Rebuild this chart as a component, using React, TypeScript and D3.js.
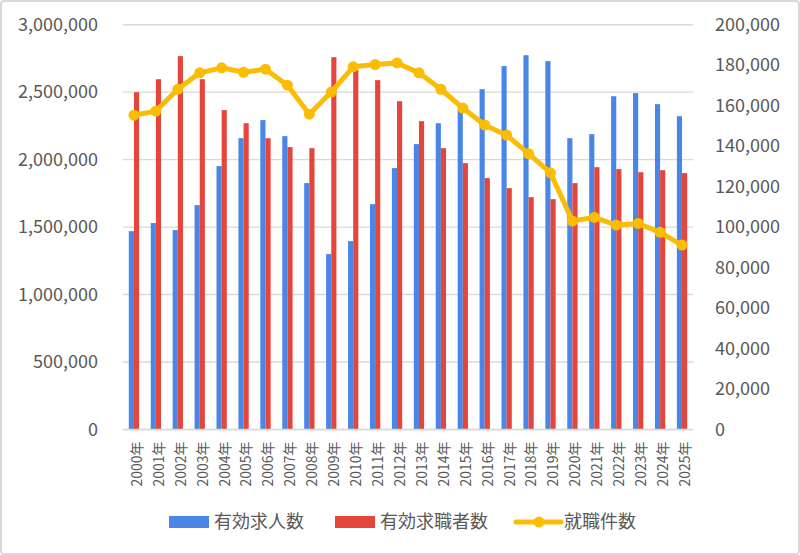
import React, { useEffect, useRef } from 'react'
import * as d3 from 'd3'

// 年度
const years = ['2000年', '2001年', '2002年', '2003年', '2004年', '2005年', '2006年', '2007年', '2008年', '2009年',
    '2010年', '2011年', '2012年', '2013年', '2014年', '2015年', '2016年', '2017年', '2018年', '2019年',
    '2020年', '2021年', '2022年', '2023年', '2024年', '2025年']

// 有効求人数 (left axis)
const openings = [1470000, 1530000, 1478000, 1663000, 1952000, 2159000, 2293000, 2174000, 1826000, 1300000,
    1396000, 1670000, 1937000, 2115000, 2270000, 2367000, 2522000, 2693000, 2774000, 2730000,
    2159000, 2189000, 2470000, 2493000, 2411000, 2322000]

// 有効求職者数 (left axis)
const seekers = [2500000, 2596000, 2767000, 2596000, 2367000, 2270000, 2159000, 2093000, 2085000, 2759000,
    2665000, 2589000, 2433000, 2285000, 2085000, 1974000, 1863000, 1789000, 1722000, 1707000,
    1826000, 1944000, 1930000, 1907000, 1922000, 1900000]

// 就職件数 (right axis)
const placements = [155300, 157300, 168100, 176200, 178700, 176500, 178000, 170100, 155800, 166700,
    179200, 180300, 181100, 176200, 168100, 158800, 150400, 145400, 136300, 126800,
    103000, 104800, 101000, 101800, 97400, 91100]

const leftTicks = [0, 500000, 1000000, 1500000, 2000000, 2500000, 3000000]
const rightTicks = [0, 20000, 40000, 60000, 80000, 100000, 120000, 140000, 160000, 180000, 200000]

const legendItems = ['有効求人数', '有効求職者数', '就職件数']

const W = 800, H = 555
const BLUE = '#4a86e8', RED = '#e5463b', YELLOW = '#fbbc04'
const TEXT = '#595959', GRID = '#d9d9d9'
const FONT = '"Noto Sans CJK JP", "Noto Sans", sans-serif'

const App = () => {
    const ref = useRef<SVGSVGElement>(null)

    useEffect(() => {
        const svg = d3.select(ref.current)
        svg.selectAll('*').remove()

        const left = 123, right = 693, top = 24.7, bottom = 429.5

        const x = d3.scaleBand().domain(years).range([left, right])
        const yL = d3.scaleLinear().domain([0, 3000000]).range([bottom, top])
        const yR = d3.scaleLinear().domain([0, 200000]).range([bottom, top])
        const fmt = d3.format(',')

        // chart border
        svg.append('rect')
            .attr('x', 1).attr('y', 1).attr('width', W - 2).attr('height', H - 2)
            .attr('rx', 3)
            .attr('fill', '#fff').attr('stroke', GRID).attr('stroke-width', 2)

        // gridlines
        svg.append('g')
            .selectAll('line')
            .data(leftTicks)
            .join('line')
            .attr('x1', left).attr('x2', right)
            .attr('y1', d => yL(d)).attr('y2', d => yL(d))
            .attr('stroke', GRID).attr('stroke-width', 1.4)

        // left tick labels
        svg.append('g')
            .selectAll('text')
            .data(leftTicks)
            .join('text')
            .attr('x', 98).attr('y', d => yL(d))
            .attr('dy', '0.35em')
            .attr('text-anchor', 'end')
            .attr('font-size', 18).attr('fill', TEXT).attr('font-family', FONT)
            .text(d => fmt(d))

        // right tick labels
        svg.append('g')
            .selectAll('text')
            .data(rightTicks)
            .join('text')
            .attr('x', 715).attr('y', d => yR(d))
            .attr('dy', '0.35em')
            .attr('text-anchor', 'start')
            .attr('font-size', 18).attr('fill', TEXT).attr('font-family', FONT)
            .text(d => fmt(d))

        const bw = x.bandwidth() * 0.235

        // bars
        svg.append('g')
            .selectAll('rect')
            .data(openings)
            .join('rect')
            .attr('x', (d, i) => (x(years[i]) as number) + x.bandwidth() / 2 - bw)
            .attr('y', d => yL(d))
            .attr('width', bw)
            .attr('height', d => bottom - yL(d))
            .attr('fill', BLUE)

        svg.append('g')
            .selectAll('rect')
            .data(seekers)
            .join('rect')
            .attr('x', (d, i) => (x(years[i]) as number) + x.bandwidth() / 2)
            .attr('y', d => yL(d))
            .attr('width', bw)
            .attr('height', d => bottom - yL(d))
            .attr('fill', RED)

        // axis line on top of bars
        svg.append('line')
            .attr('x1', left).attr('x2', right)
            .attr('y1', bottom).attr('y2', bottom)
            .attr('stroke', GRID).attr('stroke-width', 1.6)

        // x labels (rotated)
        svg.append('g')
            .selectAll('text')
            .data(years)
            .join('text')
            .attr('transform', d => `translate(${(x(d) as number) + x.bandwidth() / 2 + 3},${bottom + 12}) rotate(-90)`)
            .attr('text-anchor', 'end')
            .attr('dy', '0.35em')
            .attr('font-size', 14).attr('fill', TEXT).attr('font-family', FONT)
            .text(d => d)

        // line series
        const line = d3.line<number>()
            .x((d, i) => (x(years[i]) as number) + x.bandwidth() / 2)
            .y(d => yR(d))

        svg.append('path')
            .datum(placements)
            .attr('d', line)
            .attr('fill', 'none')
            .attr('stroke', YELLOW)
            .attr('stroke-width', 5)
            .attr('stroke-linejoin', 'round')

        svg.append('g')
            .selectAll('circle')
            .data(placements)
            .join('circle')
            .attr('cx', (d, i) => (x(years[i]) as number) + x.bandwidth() / 2)
            .attr('cy', d => yR(d))
            .attr('r', 5.5)
            .attr('fill', YELLOW)

        // legend
        const lg = svg.append('g').attr('font-family', FONT).attr('font-size', 18).attr('fill', TEXT)
        const ly = 522
        lg.append('rect').attr('x', 169).attr('y', ly - 6).attr('width', 40).attr('height', 12).attr('fill', BLUE)
        lg.append('text').attr('x', 214).attr('y', ly).attr('dy', '0.35em').text(legendItems[0])
        lg.append('rect').attr('x', 335).attr('y', ly - 6).attr('width', 40).attr('height', 12).attr('fill', RED)
        lg.append('text').attr('x', 380).attr('y', ly).attr('dy', '0.35em').text(legendItems[1])
        lg.append('line').attr('x1', 516).attr('x2', 561).attr('y1', ly).attr('y2', ly)
            .attr('stroke', YELLOW).attr('stroke-width', 5).attr('stroke-linecap', 'round')
        lg.append('circle').attr('cx', 539).attr('cy', ly).attr('r', 5.5).attr('fill', YELLOW)
        lg.append('text').attr('x', 564).attr('y', ly).attr('dy', '0.35em').text(legendItems[2])
    }, [])

    return (
        <svg ref={ref} width={W} height={H}
            style={{ position: 'absolute', left: 0, top: 0, background: '#fff' }} />
    )
}

export default App
